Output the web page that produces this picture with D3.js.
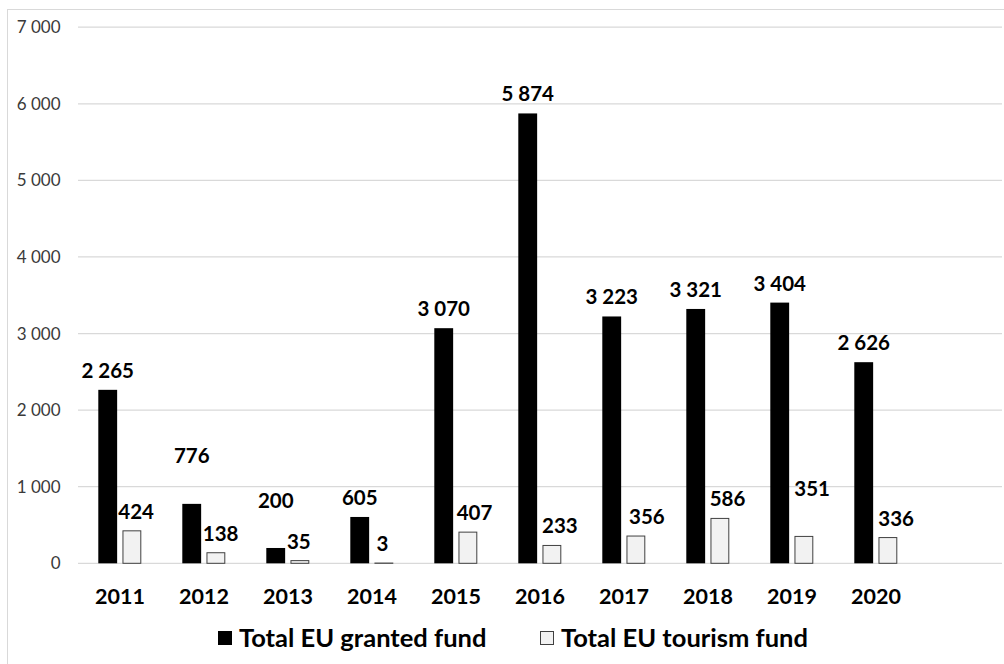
<!DOCTYPE html>
<html>
<head>
<meta charset="utf-8">
<script src="https://cdn.jsdelivr.net/npm/d3@7"></script>
<style>
  html, body { margin: 0; padding: 0; background: #fff; }
  svg { display: block; }
</style>
</head>
<body>
<svg id="chart" width="1004" height="664"></svg>
<script>
// Years on the category axis
const years = ["2011", "2012", "2013", "2014", "2015", "2016", "2017", "2018", "2019", "2020"];
// Total EU granted fund per year
const grantedFund = [2265, 776, 200, 605, 3070, 5874, 3223, 3321, 3404, 2626];
// Total EU tourism fund per year
const tourismFund = [424, 138, 35, 3, 407, 233, 356, 586, 351, 336];
// Value axis ticks
const yTicks = [0, 1000, 2000, 3000, 4000, 5000, 6000, 7000];
// Series names shown in the legend
const seriesNames = ["Total EU granted fund", "Total EU tourism fund"];

// Hand-placed label offsets (px) for labels that were moved off their default spot
const grantedLabelShift = [0, -29, -28, 0, 0, 0, 0, 0, 0, 0];
const tourismLabelShiftX = [4.3, 4.8, -1, -1.5, 6.6, 8, 11, 7.6, 8.3, 8.3];
const tourismLabelShiftY = [0, 0, 0, 0, 0, 0, 0, 0, -28, 0];

const svg = d3.select("#chart");
const plotLeft = 78, step = 84, gridRight = 1002;
const plotBase = 563.3, plotTop = 27.2;

const fmt = d3.formatLocale({ decimal: ",", thousands: " ", grouping: [3], currency: ["", ""] }).format(",d");

// Chart area border
svg.append("rect")
  .attr("x", 7.5).attr("y", 9.5)
  .attr("width", 1010).attr("height", 700)
  .attr("fill", "none").attr("stroke", "#d9d9d9").attr("stroke-width", 1);

const x = d3.scaleBand().domain(years).range([plotLeft, plotLeft + step * years.length]);
const inner = d3.scaleBand().domain(["granted", "tourism"]).range([20.3, 63.3]).paddingInner(0.22);
const y = d3.scaleLinear().domain([0, 7000]).range([plotBase, plotTop]);

// Gridlines
svg.append("g").selectAll("line").data(yTicks).join("line")
  .attr("x1", plotLeft).attr("x2", gridRight)
  .attr("y1", d => y(d)).attr("y2", d => y(d))
  .attr("stroke", "#d9d9d9").attr("stroke-width", 1.3);

// Value axis labels
svg.append("g").selectAll("text").data(yTicks).join("text")
  .attr("x", 60.5).attr("y", d => y(d))
  .attr("dy", "0.36em")
  .attr("text-anchor", "end")
  .attr("font-family", "Lato, sans-serif")
  .attr("font-size", 17)
  .attr("fill", "#3a3a3a")
  .text(d => fmt(d));

// Category labels
svg.append("g").selectAll("text").data(years).join("text")
  .attr("x", d => x(d) + x.bandwidth() / 2)
  .attr("y", 604)
  .attr("text-anchor", "middle")
  .attr("font-family", "Lato, sans-serif")
  .attr("font-weight", "bold")
  .attr("font-size", 21.5)
  .attr("fill", "#000")
  .text(d => d);

const rows = years.map((yr, i) => ({ yr, i, g: grantedFund[i], t: tourismFund[i] }));

// Granted fund bars
svg.append("g").selectAll("rect").data(rows).join("rect")
  .attr("x", d => x(d.yr) + inner("granted"))
  .attr("width", inner.bandwidth())
  .attr("y", d => y(d.g))
  .attr("height", d => plotBase - y(d.g))
  .attr("fill", "#000");

// Tourism fund bars
svg.append("g").selectAll("rect").data(rows).join("rect")
  .attr("x", d => x(d.yr) + inner("tourism") + 0.5)
  .attr("width", inner.bandwidth() - 1)
  .attr("y", d => y(d.t))
  .attr("height", d => plotBase - y(d.t))
  .attr("fill", "#f2f2f2")
  .attr("stroke", "#404040")
  .attr("stroke-width", 1);

const labelFont = { family: "Lato, sans-serif", size: 20.5 };

// Granted fund value labels
svg.append("g").selectAll("text").data(rows).join("text")
  .attr("x", d => x(d.yr) + inner("granted") + inner.bandwidth() / 2)
  .attr("y", d => y(d.g) - 12 + grantedLabelShift[d.i])
  .attr("text-anchor", "middle")
  .attr("font-family", labelFont.family)
  .attr("font-weight", "bold")
  .attr("font-size", labelFont.size)
  .attr("fill", "#000")
  .text(d => fmt(d.g));

// Tourism fund value labels
svg.append("g").selectAll("text").data(rows).join("text")
  .attr("x", d => x(d.yr) + inner("tourism") + inner.bandwidth() / 2 + tourismLabelShiftX[d.i])
  .attr("y", d => y(d.t) - 12 + tourismLabelShiftY[d.i])
  .attr("text-anchor", "middle")
  .attr("font-family", labelFont.family)
  .attr("font-weight", "bold")
  .attr("font-size", labelFont.size)
  .attr("fill", "#000")
  .text(d => fmt(d.t));

// Legend
const legend = svg.append("g");
const legendItems = [
  { name: seriesNames[0], x: 218, fill: "#000", stroke: "#000" },
  { name: seriesNames[1], x: 540, fill: "#f2f2f2", stroke: "#404040" }
];
const li = legend.selectAll("g").data(legendItems).join("g")
  .attr("transform", d => `translate(${d.x},0)`);
li.append("rect")
  .attr("x", 0.5).attr("y", 631.5)
  .attr("width", 13).attr("height", 13)
  .attr("fill", d => d.fill)
  .attr("stroke", d => d.stroke);
li.append("text")
  .attr("x", 21).attr("y", 646.5)
  .attr("font-family", "Lato, sans-serif")
  .attr("font-weight", "bold")
  .attr("font-size", 25.5)
  .attr("fill", "#000")
  .text(d => d.name);
</script>
</body>
</html>
